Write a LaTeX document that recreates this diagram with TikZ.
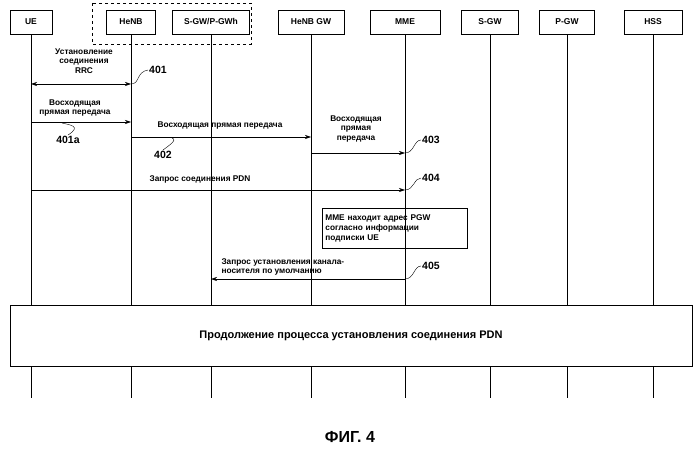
\documentclass[tikz,border=0pt]{standalone}
\usepackage{fontspec}
\setmainfont{Liberation Sans}
\usetikzlibrary{positioning, arrows.meta}

\begin{document}
\begin{tikzpicture}[
    x=1pt, y=-1pt,
    every node/.style={font=\fontsize{8.3}{9.6}\selectfont\bfseries},
    entity/.style={rectangle, draw, thick, minimum height=24pt, inner sep=1pt, font=\fontsize{8.5}{9.5}\selectfont\bfseries},
    life/.style={draw, semithick},
    msg/.style={-{Stealth[length=6pt, width=4pt]}, semithick},
    tag/.style={font=\fontsize{10.5}{11}\selectfont\bfseries, inner sep=1pt},
    wiggle/.style={thin},
]
\useasboundingbox (0,0) rectangle (700,449);

% Entities
\node[entity, minimum width=42pt] (ue) at (31,22) {UE};
\node[entity, minimum width=49pt] (henb) at (131,22) {HeNB};
\node[entity, minimum width=77pt] (sgwh) at (211,22) {S-GW/P-GWh};
\node[entity, minimum width=66pt] (henbgw) at (311,22) {HeNB GW};
\node[entity, minimum width=70pt] (mme) at (405,22) {MME};
\node[entity, minimum width=57pt] (sgw) at (490,22) {S-GW};
\node[entity, minimum width=55pt] (pgw) at (567,22) {P-GW};
\node[entity, minimum width=58pt] (hss) at (653,22) {HSS};
\draw[dashed, thick] (92,3) rectangle (251,44);

% Lifelines
\foreach \e in {ue, henb, sgwh, henbgw, mme, sgw, pgw, hss} {
    \coordinate (\e-end) at (\e.south |- 0,398);
    \draw[life] (\e.south) -- (\e-end);
}

% Messages
\coordinate (m1a) at (ue.south |- 0,84);
\coordinate (m1b) at (henb.south |- 0,84);
\draw[{Stealth[length=6pt, width=4pt]}-{Stealth[length=6pt, width=4pt]}, semithick] (m1a) -- (m1b);
\node[align=center] (t401) at (84,61) {Установление\\соединения\\RRC};

\coordinate (m2a) at (ue.south |- 0,122);
\coordinate (m2b) at (henb.south |- 0,122);
\draw[msg] (m2a) -- (m2b);
\node[align=center] (t401a) at (75,108) {Восходящая\\прямая передача};

\coordinate (m3a) at (henb.south |- 0,137);
\coordinate (m3b) at (henbgw.south |- 0,137);
\draw[msg] (m3a) -- (m3b);
\node (t402) at (220,126) {Восходящая прямая передача};

\coordinate (m4a) at (henbgw.south |- 0,153);
\coordinate (m4b) at (mme.south |- 0,153);
\draw[msg] (m4a) -- (m4b);
\node[align=center] (t403) at (356,129) {Восходящая\\прямая\\передача};

\coordinate (m5a) at (ue.south |- 0,190);
\coordinate (m5b) at (mme.south |- 0,190);
\draw[msg] (m5a) -- (m5b);
\node (t404) at (200,179) {Запрос соединения PDN};

\node[draw, thick, align=left, minimum width=145pt, minimum height=40pt, anchor=north west, inner sep=3pt, text width=139pt] (find) at (322,208)
    {MME находит адрес PGW\\согласно информации\\подписки UE};

\coordinate (m6a) at (mme.south |- 0,279);
\coordinate (m6b) at (sgwh.south |- 0,279);
\draw[msg] (m6a) -- (m6b);
\node[align=left, anchor=west] (t405) at (218,267) {Запрос установления канала-\\носителя по умолчанию};

% Continuation
\node[draw, thick, fill=white, minimum width=682pt, minimum height=61pt, font=\fontsize{11}{13}\selectfont\bfseries] (cont) at (351,336)
    {Продолжение процесса установления соединения PDN};

% Tags
\node[tag] (n401) at (158,70) {401};
\draw[wiggle] (m1b) .. controls (140,84) and (136,72) .. (n401.west);
\node[tag] (n401a) at (68,140) {401a};
\draw[wiggle] (62,123) .. controls (70,125) and (82,126) .. (n401a.north);
\node[tag] (n402) at (163,155) {402};
\draw[wiggle] (172,138) .. controls (178,140) and (168,146) .. (n402.north);
\node[tag] (n403) at (431,140) {403};
\draw[wiggle] (m4b) .. controls (414,153) and (414,140) .. (n403.west);
\node[tag] (n404) at (431,178) {404};
\draw[wiggle] (m5b) .. controls (414,190) and (414,178) .. (n404.west);
\node[tag] (n405) at (431,266) {405};
\draw[wiggle] (m6a) .. controls (414,279) and (414,266) .. (n405.west);

% Caption
\node[font=\fontsize{16}{18}\selectfont\bfseries] (fig) at (350,437) {ФИГ. 4};
\end{tikzpicture}
\end{document}
